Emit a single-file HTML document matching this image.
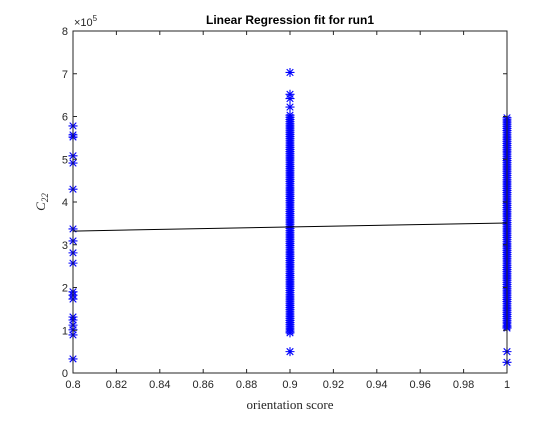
<!DOCTYPE html>
<html><head><meta charset="utf-8"><style>
body{margin:0;background:#fff}
svg text{font-family:"Liberation Sans",sans-serif}
</style></head><body>
<svg id="chart" width="560" height="420" xmlns="http://www.w3.org/2000/svg">
<rect width="560" height="420" fill="#fff"/>
<g id="marks"></g>
<g id="axes"></g>
</svg>
<script>
const xTicks=[0.8,0.82,0.84,0.86,0.88,0.9,0.92,0.94,0.96,0.98,1];
const xTickLabels=["0.8","0.82","0.84","0.86","0.88","0.9","0.92","0.94","0.96","0.98","1"];
const yTicks=[0,1,2,3,4,5,6,7,8];
const yTickLabels=["0","1","2","3","4","5","6","7","8"];
const col08=[5.78,5.57,5.52,5.08,4.91,4.30,3.37,3.09,2.81,2.57,1.90,1.82,1.73,1.31,1.24,1.12,1.01,0.89,0.33];
const col09=[7.03,6.52,6.42,6.22,6.03,5.98,5.93,5.88,5.83,5.78,5.73,5.68,5.63,5.58,5.53,5.48,5.43,5.38,5.33,5.28,5.23,5.18,5.13,5.08,5.03,4.98,4.93,4.88,4.83,4.78,4.73,4.68,4.63,4.58,4.53,4.48,4.43,4.38,4.33,4.28,4.23,4.18,4.13,4.08,4.03,3.98,3.93,3.88,3.83,3.78,3.73,3.68,3.63,3.58,3.53,3.48,3.43,3.38,3.33,3.28,3.23,3.18,3.13,3.08,3.03,2.98,2.93,2.88,2.83,2.78,2.73,2.68,2.63,2.58,2.53,2.48,2.43,2.38,2.33,2.28,2.23,2.18,2.13,2.08,2.03,1.98,1.93,1.88,1.83,1.78,1.73,1.68,1.63,1.58,1.53,1.48,1.43,1.38,1.33,1.28,1.23,1.18,1.13,1.08,1.03,0.98,0.94,0.5];
const col10=[5.97,5.92,5.87,5.82,5.77,5.72,5.67,5.62,5.57,5.52,5.47,5.42,5.37,5.32,5.27,5.22,5.17,5.12,5.07,5.02,4.97,4.92,4.87,4.82,4.77,4.72,4.67,4.62,4.57,4.52,4.47,4.42,4.37,4.32,4.27,4.22,4.17,4.12,4.07,4.02,3.97,3.92,3.87,3.82,3.77,3.72,3.67,3.62,3.57,3.52,3.47,3.42,3.37,3.32,3.27,3.22,3.17,3.12,3.07,3.02,2.97,2.92,2.87,2.82,2.77,2.72,2.67,2.62,2.57,2.52,2.47,2.42,2.37,2.32,2.27,2.22,2.17,2.12,2.07,2.02,1.97,1.92,1.87,1.82,1.77,1.72,1.67,1.62,1.57,1.52,1.47,1.42,1.37,1.32,1.27,1.22,1.17,1.12,1.08,1.05,0.5,0.25];
const fitX=[0.8,1];
const fitY=[3.32,3.51];
const L=73,R=507,T=31,B=373;
const X=v=>L+(v-0.8)/0.2*(R-L);
const Y=v=>B-v/8*(B-T);
const NS="http://www.w3.org/2000/svg";
function mk(tag,attrs,parent){const e=document.createElementNS(NS,tag);for(const k in attrs)e.setAttribute(k,attrs[k]);parent.appendChild(e);return e;}
const marks=document.getElementById('marks'), axes=document.getElementById('axes');
function star(xv,yv){
  const cx=X(xv),cy=Y(yv),s=4.5,d=3.3;
  const g=mk('path',{d:`M${cx-s} ${cy}H${cx+s}M${cx} ${cy-s}V${cy+s}M${cx-d} ${cy-d}L${cx+d} ${cy+d}M${cx-d} ${cy+d}L${cx+d} ${cy-d}`,stroke:'#0000ff','stroke-width':1.1,fill:'none'},marks);
  
  
}
col08.forEach(v=>star(0.8,v));
col09.forEach(v=>star(0.9,v));
col10.forEach(v=>star(1,v));
const fl=mk('line',{x1:X(fitX[0]),y1:Y(fitY[0]),x2:X(fitX[1]),y2:Y(fitY[1]),stroke:'#000','stroke-width':1},marks);


const box=mk('rect',{x:L,y:T,width:R-L,height:B-T,fill:'none',stroke:'#262626','stroke-width':1},axes);


xTicks.forEach((v,i)=>{
  const x=X(v);
  mk('path',{d:`M${x} ${B}V${B-4}M${x} ${T}V${T+4}`,stroke:'#262626'},axes);
  const t=mk('text',{x:x,y:B+15,'text-anchor':'middle','font-size':11,fill:'#262626'},axes);
  t.textContent=xTickLabels[i];
  
  
});
yTicks.forEach((v,i)=>{
  const y=Y(v);
  mk('path',{d:`M${L} ${y}H${L+4}M${R} ${y}H${R-4}`,stroke:'#262626'},axes);
  const t=mk('text',{x:L-5,y:y+4,'text-anchor':'end','font-size':11,fill:'#262626'},axes);
  t.textContent=yTickLabels[i];
  
  
});
</script>
<svg style="position:absolute;left:0;top:0" width="560" height="420" xmlns="http://www.w3.org/2000/svg">
<text x="290" y="24" text-anchor="middle" font-size="12" font-weight="bold" fill="#000">Linear Regression fit for run1</text>
<text x="74" y="26" font-size="11" fill="#262626">×10<tspan font-size="8" dy="-5">5</tspan></text>
<text x="290" y="409" text-anchor="middle" font-size="13" fill="#262626" style="font-family:'Liberation Serif',serif">orientation score</text>
<text transform="translate(45,202) rotate(-90)" text-anchor="middle" font-size="13" fill="#262626" style="font-family:'Liberation Serif',serif;font-style:italic">C<tspan font-size="9" dy="3">22</tspan></text>
</svg>
</body></html>
